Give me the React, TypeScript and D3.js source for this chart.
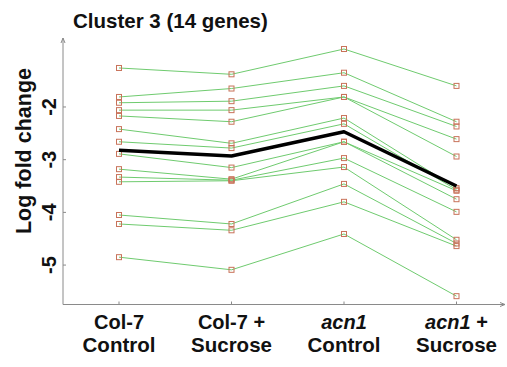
import React from "react";
import * as d3 from "d3";

// Conditions along the x axis
const categories = ["col7Control", "col7Sucrose", "acn1Control", "acn1Sucrose"];
const labelTop = ["Col-7", "Col-7 +", "acn1", "acn1 +"];
const labelBottom = ["Control", "Sucrose", "Control", "Sucrose"];
const labelTopItalic = [false, false, true, true];

// Log fold change of each gene in the cluster, one row per gene
const gene01 = [-1.26, -1.38, -0.9, -1.6];
const gene02 = [-1.81, -1.65, -1.35, -2.28];
const gene03 = [-1.92, -1.89, -1.6, -2.37];
const gene04 = [-2.06, -2.06, -1.81, -2.61];
const gene05 = [-2.17, -2.28, -1.81, -2.94];
const gene06 = [-2.42, -2.69, -2.21, -3.54];
const gene07 = [-2.66, -2.78, -2.32, -3.57];
const gene08 = [-2.89, -3.15, -2.66, -3.59];
const gene09 = [-3.18, -3.37, -2.66, -3.75];
const gene10 = [-3.33, -3.39, -2.97, -3.99];
const gene11 = [-3.42, -3.4, -3.14, -4.52];
const gene12 = [-4.05, -4.22, -3.46, -4.59];
const gene13 = [-4.22, -4.34, -3.8, -4.64];
const gene14 = [-4.85, -5.09, -4.41, -5.59];
const genes = [gene01, gene02, gene03, gene04, gene05, gene06, gene07, gene08, gene09, gene10, gene11, gene12, gene13, gene14];

// Cluster average profile
const clusterMean = [-2.82, -2.93, -2.47, -3.5];

const yTicks = [-2, -3, -4, -5];
const yDomain = [-5.75, -0.75];

const W = 507;
const H = 367;
const axisLeft = 63;
const axisBottom = 304.5;
const axisRight = 505;
const axisTop = 38;

export default function App() {
  const x = d3.scalePoint<string>().domain(categories).range([119, 456.5]).padding(0);
  const y = d3.scaleLinear().domain(yDomain).range([304.6, 41.1]);

  const line = d3
    .line<number>()
    .x((_, i) => x(categories[i]) as number)
    .y((d) => y(d));

  const axisColor = "#8a8a8a";
  const font = "'Liberation Sans', Arial, sans-serif";
  const markerSize = 5;

  return (
    <svg
      width={W}
      height={H}
      style={{ position: "absolute", left: 0, top: 0, background: "#fff" }}
      fontFamily={font}
    >
      {/* title */}
      <text x={73} y={28} fontSize={20.5} fontWeight="bold" fill="#111">
        Cluster 3 (14 genes)
      </text>

      {/* y axis label */}
      <text
        transform={`translate(31,${151}) rotate(-90)`}
        textAnchor="middle"
        fontSize={21.5}
        fontWeight="bold"
        fill="#111"
      >
        Log fold change
      </text>

      {/* axes */}
      <line x1={axisLeft} y1={axisBottom} x2={axisLeft} y2={axisTop} stroke={axisColor} strokeWidth={1} />
      <path d={`M${axisLeft - 2},${axisTop + 5} L${axisLeft},${axisTop} L${axisLeft + 2},${axisTop + 5}`} fill="none" stroke={axisColor} />
      <line x1={axisLeft} y1={axisBottom} x2={axisRight} y2={axisBottom} stroke={axisColor} strokeWidth={1} />
      <path d={`M${axisRight - 5},${axisBottom - 2} L${axisRight},${axisBottom} L${axisRight - 5},${axisBottom + 2}`} fill="none" stroke={axisColor} />

      {yTicks.map((t) => (
        <g key={t}>
          <line x1={axisLeft} x2={axisLeft + 3} y1={y(t)} y2={y(t)} stroke={axisColor} />
          <text
            transform={`translate(56,${y(t)}) rotate(-90)`}
            textAnchor="middle"
            fontSize={20}
            fontWeight="bold"
            fill="#111"
          >
            {t < 0 ? `-${Math.abs(t)}` : t}
          </text>
        </g>
      ))}

      {categories.map((c, i) => (
        <g key={c}>
          <line x1={x(c)} x2={x(c)} y1={axisBottom} y2={axisBottom - 3} stroke={axisColor} />
          <text
            x={x(c)}
            y={329}
            textAnchor="middle"
            fontSize={20}
            fontWeight="bold"
            fill="#111"
          >
            {labelTopItalic[i] ? (
              <>
                <tspan fontStyle="italic">acn1</tspan>
                {labelTop[i].slice(4)}
              </>
            ) : (
              labelTop[i]
            )}
          </text>
          <text x={x(c)} y={352} textAnchor="middle" fontSize={20.5} fontWeight="bold" fill="#111">
            {labelBottom[i]}
          </text>
        </g>
      ))}

      {/* individual gene profiles */}
      {genes.map((g, gi) => (
        <path key={`l${gi}`} d={line(g) ?? ""} fill="none" stroke="#6fcb6f" strokeWidth={1} />
      ))}

      {genes.map((g, gi) =>
        g.map((v, i) => (
          <rect
            key={`m${gi}-${i}`}
            x={(x(categories[i]) as number) - markerSize / 2}
            y={y(v) - markerSize / 2}
            width={markerSize}
            height={markerSize}
            fill="none"
            stroke="#c8735a"
            strokeWidth={1}
          />
        ))
      )}

      {/* cluster mean */}
      <path d={line(clusterMean) ?? ""} fill="none" stroke="#000" strokeWidth={3.5} strokeLinejoin="round" />
    </svg>
  );
}
